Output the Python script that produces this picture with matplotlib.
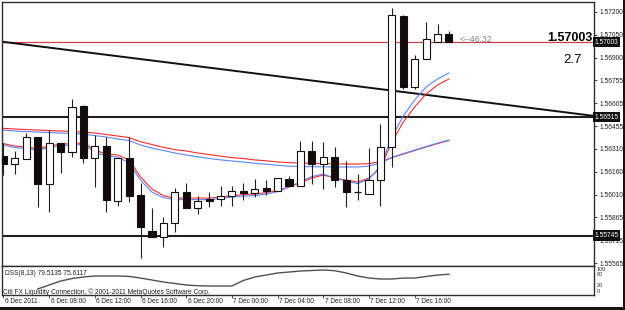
import matplotlib
matplotlib.use('Agg')
import matplotlib.pyplot as plt
from matplotlib.patches import Rectangle
from matplotlib.transforms import blended_transform_factory

plt.rcParams['font.family'] = ['Liberation Sans', 'DejaVu Sans']

# ---------------- data ----------------
date_labels = ["6 Dec 2011", "6 Dec 08:00", "6 Dec 12:00", "6 Dec 16:00", "6 Dec 20:00",
               "7 Dec 00:00", "7 Dec 04:00", "7 Dec 08:00", "7 Dec 12:00", "7 Dec 16:00"]
date_tick_idx = [0, 4, 8, 12, 16, 20, 24, 28, 32, 36]

opens = [1.56262, 1.56210, 1.56243, 1.56386, 1.56080, 1.56347, 1.56288, 1.56587, 1.56249, 1.56327,
         1.55970, 1.56249, 1.56009, 1.55775, 1.55736, 1.55827, 1.56028, 1.55924, 1.55983, 1.55983,
         1.56002, 1.56035, 1.56022, 1.56054, 1.56035, 1.56113, 1.56067, 1.56295, 1.56210, 1.56256,
         1.56106, 1.56028, 1.56015, 1.56106, 1.56321, 1.57172, 1.56711, 1.56893, 1.57003, 1.57055]
highs = [1.56347, 1.56295, 1.56412, 1.56386, 1.56431, 1.56347, 1.56633, 1.56594, 1.56399, 1.56386,
         1.56249, 1.56386, 1.56087, 1.55924, 1.55866, 1.56054, 1.56087, 1.56002, 1.56028, 1.56067,
         1.56067, 1.56087, 1.56113, 1.56106, 1.56119, 1.56132, 1.56360, 1.56360, 1.56353, 1.56321,
         1.56230, 1.56144, 1.56314, 1.56470, 1.57224, 1.57179, 1.56919, 1.57133, 1.57120, 1.57075]
lows = [1.56139, 1.56145, 1.56243, 1.55931, 1.55898, 1.56152, 1.56256, 1.56217, 1.56061, 1.55898,
        1.55937, 1.55963, 1.55599, 1.55736, 1.55671, 1.55768, 1.55924, 1.55885, 1.55931, 1.55937,
        1.55937, 1.55976, 1.55996, 1.56009, 1.56035, 1.56067, 1.56067, 1.56080, 1.56048, 1.56061,
        1.55931, 1.55976, 1.56015, 1.55937, 1.56191, 1.56698, 1.56698, 1.56893, 1.57003, 1.57003]
closes = [1.56210, 1.56249, 1.56386, 1.56080, 1.56347, 1.56288, 1.56581, 1.56249, 1.56327, 1.55976,
          1.56249, 1.56002, 1.55801, 1.55736, 1.55827, 1.56028, 1.55924, 1.55970, 1.55970, 1.56002,
          1.56035, 1.56022, 1.56048, 1.56035, 1.56119, 1.56067, 1.56295, 1.56210, 1.56256, 1.56106,
          1.56028, 1.56028, 1.56106, 1.56321, 1.57179, 1.56711, 1.56893, 1.57023, 1.57055, 1.57003]

ma_slow_red = [1.56442, 1.56438, 1.56434, 1.56431, 1.56428, 1.56425, 1.56421, 1.56418, 1.56412, 1.56402,
               1.56392, 1.56382, 1.56355, 1.56337, 1.56319, 1.56304, 1.56295, 1.56282, 1.56272, 1.56262,
               1.56252, 1.56246, 1.56237, 1.56231, 1.56224, 1.56219, 1.56217, 1.56215, 1.56213, 1.56212,
               1.56210, 1.56210, 1.56213, 1.56226, 1.56252, 1.56275, 1.56298, 1.56321, 1.56343, 1.56363]
ma_slow_blue = [1.56431, 1.56425, 1.56421, 1.56418, 1.56415, 1.56412, 1.56408, 1.56405, 1.56395, 1.56386,
                1.56373, 1.56363, 1.56334, 1.56314, 1.56298, 1.56282, 1.56269, 1.56257, 1.56247, 1.56237,
                1.56230, 1.56223, 1.56215, 1.56209, 1.56202, 1.56197, 1.56194, 1.56193, 1.56192, 1.56191,
                1.56191, 1.56191, 1.56197, 1.56217, 1.56252, 1.56278, 1.56301, 1.56324, 1.56347, 1.56366]
ma_fast_red = [1.56343, 1.56327, 1.56321, 1.56311, 1.56327, 1.56340, 1.56343, 1.56347, 1.56301, 1.56275,
               1.56269, 1.56236, 1.56126, 1.56048, 1.56005, 1.55989, 1.55989, 1.55989, 1.55989, 1.55996,
               1.56005, 1.56012, 1.56015, 1.56025, 1.56038, 1.56061, 1.56090, 1.56119, 1.56139, 1.56119,
               1.56106, 1.56093, 1.56119, 1.56184, 1.56353, 1.56483, 1.56581, 1.56665, 1.56724, 1.56763]
ma_fast_blue = [1.56334, 1.56317, 1.56311, 1.56301, 1.56317, 1.56330, 1.56334, 1.56337, 1.56288, 1.56262,
                1.56256, 1.56217, 1.56106, 1.56028, 1.55992, 1.55979, 1.55979, 1.55979, 1.55979, 1.55986,
                1.55996, 1.56002, 1.56005, 1.56015, 1.56031, 1.56061, 1.56096, 1.56129, 1.56145, 1.56119,
                1.56100, 1.56083, 1.56113, 1.56197, 1.56386, 1.56522, 1.56626, 1.56711, 1.56763, 1.56802]

dss_start = 3
dss_values = [15.9, 33, 50, 61, 67.6, 72, 72, 72, 70, 63, 54.6, 46, 39.6, 33, 30, 28.8, 28.8, 28.8,
              52.5, 67.6, 76, 85, 89, 93.4, 95.6, 97.8, 94.7, 85, 72, 63, 59, 59, 63, 63, 70, 76, 79.5]
dss_levels = ["100", "80", "20", "0"]

price_ticks = [1.57200, 1.57050, 1.56900, 1.56755, 1.56605, 1.56455, 1.56310, 1.56160,
               1.56010, 1.55865, 1.55715, 1.55565]
level_current = 1.57003
level_resist = 1.56515
level_support = 1.55745
trend_x = [-0.13, 51.7]
trend_y = [1.57005, 1.56523]

# ---------------- figure ----------------
W, H = 625, 310
fig = plt.figure(figsize=(W / 100, H / 100), dpi=100)
fig.patch.set_facecolor('white')


def fx(px):
    return px / W


def fy(py):
    return 1 - py / H


ax = fig.add_axes([fx(2), fy(265.5), fx(594) - fx(2), fy(2) - fy(265.5)])
ax2 = fig.add_axes([fx(2), fy(295), fx(594) - fx(2), fy(266) - fy(295)])

xmin, xmax = -0.13, 51.7
ax.set_xlim(xmin, xmax)
ax.set_ylim(1.55551, 1.57263)
ax2.set_xlim(xmin, xmax)
ax2.set_ylim(-10, 115)

for a in (ax, ax2):
    a.set_facecolor('white')
    for s in a.spines.values():
        s.set_color('#303030')
        s.set_linewidth(1.0)

# horizontal levels and trend line
ax.axhline(level_current, color='#d04040', lw=0.9, zorder=1)
ax.axhline(level_resist, color='#202020', lw=1.5, zorder=1)
ax.axhline(level_support, color='#202020', lw=1.5, zorder=1)
ax.plot(trend_x, trend_y, color='#101010', lw=1.4, zorder=1, solid_capstyle='butt')

# moving averages
idx = list(range(len(opens)))
ax.plot(idx, ma_slow_red, color='#ff2a2a', lw=0.8, zorder=2)
ax.plot(idx, ma_slow_blue, color='#5a86ff', lw=0.8, zorder=2)
ax.plot(idx, ma_fast_red, color='#ff2a2a', lw=0.8, zorder=2)
ax.plot(idx, ma_fast_blue, color='#5a86ff', lw=0.8, zorder=2)

# candles
bw = 0.62
for i, (o, h, l, c) in enumerate(zip(opens, highs, lows, closes)):
    ax.vlines(i, l, h, color='#202020', lw=0.8, zorder=3)
    bottom = min(o, c)
    height = abs(c - o)
    if height < 0.00002:
        ax.hlines(o, i - bw / 2, i + bw / 2, color='#101010', lw=0.9, zorder=4)
        continue
    fc = 'white' if c > o else '#140a0a'
    ax.add_patch(Rectangle((i - bw / 2, bottom), bw, height, facecolor=fc,
                           edgecolor='#101010', lw=0.8, zorder=4))

# right price scale
ax.yaxis.tick_right()
ax.set_yticks(price_ticks)
ax.set_yticklabels([f"{p:.5f}" for p in price_ticks])
ax.tick_params(axis='y', direction='out', length=2.2, width=0.6, pad=1.5,
               labelsize=4.8, colors='#202020')
ax.set_xticks([])

trans = blended_transform_factory(ax.transAxes, ax.transData)
for lv in (level_current, level_resist, level_support):
    ax.text(1.001, lv, f"{lv:.5f}", transform=trans, fontsize=4.8, color='white',
            va='center', ha='left', clip_on=False, zorder=10,
            bbox=dict(boxstyle='square,pad=0.25', facecolor='#101010', edgecolor='none'))

# annotations in main chart
ax.text(39.95, level_current + 0.00019, "<--46:32", fontsize=6.3, color='#808080',
        va='center', ha='left')
fig.text(fx(593), fy(38), "1.57003", fontsize=9, fontweight='bold', color='black',
         ha='right', va='center')
fig.text(fx(572), fy(60), "2.7", fontsize=9.5, color='black', ha='center', va='center')

# DSS panel
ax2.plot(list(range(dss_start, dss_start + len(dss_values))), dss_values,
         color='#505050', lw=1.0)
ax2.set_yticks([])
ax2.set_xticks(date_tick_idx)
ax2.set_xticklabels([])
ax2.tick_params(axis='x', direction='out', length=2.2, width=0.6, colors='#303030')
tb = blended_transform_factory(ax2.transData, ax2.transAxes)
for ti, lab in zip(date_tick_idx, date_labels):
    ax2.text(ti + 0.12, -0.22, lab, transform=tb, fontsize=4.7, color='#202020',
             ha='left', va='center', clip_on=False)

fig.text(fx(5), fy(273.5), "DSS(8,13) 79.5135 75.6117", fontsize=4.8, color='#202020',
         ha='left', va='center')
fig.text(fx(3), fy(292), "Citi FX Liquidity Connection, © 2001-2011 MetaQuotes Software Corp.",
         fontsize=4.8, color='#202020', ha='left', va='center')
for lab, py in zip(dss_levels, [269.3, 275.0, 285.5, 291.2]):
    fig.text(fx(597), fy(py), lab, fontsize=3.9, color='#202020', ha='left', va='center')

# window border (bottom and right)
fig.patches.append(Rectangle((0, 0), 1, fy(307), transform=fig.transFigure,
                             facecolor='#151515', edgecolor='none', zorder=20))
fig.patches.append(Rectangle((fx(622.5), 0), 1 - fx(622.5), 1, transform=fig.transFigure,
                             facecolor='#151515', edgecolor='none', zorder=20))

fig.savefig('out.png', dpi=100, facecolor='white')
